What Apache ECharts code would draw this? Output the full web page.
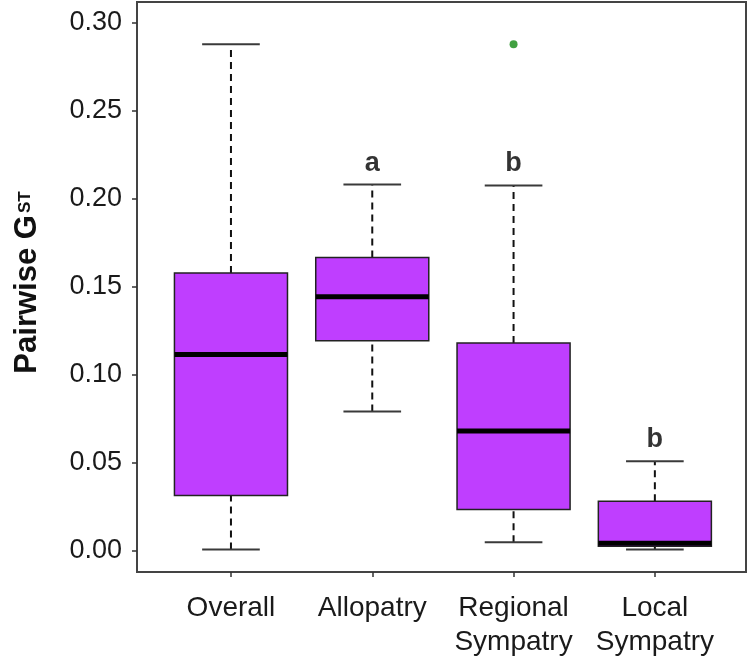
<!DOCTYPE html>
<html>
<head>
<meta charset="utf-8">
<script src="https://cdn.jsdelivr.net/npm/echarts@6/dist/echarts.min.js"></script>
<style>html,body{margin:0;padding:0;background:#fff}#chart{width:751px;height:660px}</style>
</head>
<body>
<div id="chart"></div>
<script>
const categories = ['Overall', 'Allopatry', 'Regional\nSympatry', 'Local\nSympatry'];
const whiskerLow  = [0.0006, 0.0790, 0.0047, 0.0006];
const q1          = [0.0313, 0.1193, 0.0233, 0.0025];
const median      = [0.1114, 0.1443, 0.0680, 0.0042];
const q3          = [0.1578, 0.1665, 0.1180, 0.0280];
const whiskerHigh = [0.2878, 0.2080, 0.2075, 0.0507];
const outliers    = [[2, 0.2878]];
const letters     = ['', 'a', 'b', 'b'];
const yTicks      = [0, 0.05, 0.10, 0.15, 0.20, 0.25, 0.30];
const xTicks      = [0, 1, 2, 3];

const FONT = 'Liberation Sans, Arial, sans-serif';
const boxData = categories.map((c, i) => [i, whiskerLow[i], q1[i], median[i], q3[i], whiskerHigh[i]]);
const letterData = [];
letters.forEach((l, i) => { if (l) letterData.push({ value: [i, whiskerHigh[i]], letter: l }); });

function renderBox(params, api) {
  const i = api.value(0);
  const pLo = api.coord([i, api.value(1)]);
  const pQ1 = api.coord([i, api.value(2)]);
  const pMed = api.coord([i, api.value(3)]);
  const pQ3 = api.coord([i, api.value(4)]);
  const pHi = api.coord([i, api.value(5)]);
  const unit = api.size([1, 0])[0];
  const bw = unit * 0.80;
  const cw = bw * 0.51;
  const x = pLo[0];
  const dash = { stroke: '#111', lineWidth: 2, lineDash: [7, 5] };
  const cap = { stroke: '#3a3a3a', lineWidth: 2 };
  return {
    type: 'group',
    children: [
      { type: 'line', shape: { x1: x, y1: pQ3[1], x2: x, y2: pHi[1] }, style: dash },
      { type: 'line', shape: { x1: x, y1: pLo[1], x2: x, y2: pQ1[1] }, style: dash },
      { type: 'line', shape: { x1: x - cw / 2, y1: pHi[1], x2: x + cw / 2, y2: pHi[1] }, style: cap },
      { type: 'line', shape: { x1: x - cw / 2, y1: pLo[1], x2: x + cw / 2, y2: pLo[1] }, style: cap },
      { type: 'rect', shape: { x: x - bw / 2, y: pQ3[1], width: bw, height: pQ1[1] - pQ3[1] },
        style: { fill: '#BF3EFF', stroke: '#222', lineWidth: 1.5 } },
      { type: 'line', shape: { x1: x - bw / 2, y1: pMed[1], x2: x + bw / 2, y2: pMed[1] },
        style: { stroke: '#000', lineWidth: 5 } }
    ]
  };
}

const chart = echarts.init(document.getElementById('chart'), null, { renderer: 'canvas' });
chart.setOption({
  animation: false,
  backgroundColor: '#fff',
  grid: { left: 137, right: 5, top: 2, bottom: 88, show: true, borderColor: '#444', borderWidth: 2, backgroundColor: 'transparent' },
  xAxis: {
    type: 'value',
    min: -0.665,
    max: 3.645,
    axisLine: { show: false, onZero: false },
    axisTick: { show: true, length: 5, customValues: xTicks, lineStyle: { color: '#333', width: 1.5 } },
    axisLabel: { margin: 19, fontSize: 28, fontFamily: FONT, color: '#1a1a1a', lineHeight: 34,
      customValues: xTicks, formatter: v => categories[Math.round(v)] },
    splitLine: { show: false }
  },
  yAxis: {
    type: 'value',
    min: -0.0122,
    max: 0.3118,
    name: '{a|Pairwise G}{s|ST}',
    nameLocation: 'middle',
    nameRotate: 90,
    nameGap: 94,
    nameTextStyle: {
      rich: {
        a: { fontSize: 31, fontWeight: 'bold', fontFamily: FONT, color: '#111', padding: [0, 0, 0, 9] },
        s: { fontSize: 17, fontWeight: 'bold', fontFamily: FONT, color: '#111', padding: [0, 0, 5, 2] }
      }
    },
    axisLine: { show: true, onZero: false, lineStyle: { color: '#444', width: 2 } },
    axisTick: { show: true, length: 5, customValues: yTicks, lineStyle: { color: '#333', width: 1.5 } },
    axisLabel: { margin: 15, fontSize: 27, fontFamily: FONT, color: '#1a1a1a', customValues: yTicks,
      formatter: v => v.toFixed(2) },
    splitLine: { show: false }
  },
  series: [
    {
      type: 'custom',
      renderItem: renderBox,
      encode: { x: 0, y: [1, 2, 3, 4, 5] },
      data: boxData,
      z: 2
    },
    {
      type: 'scatter',
      data: outliers,
      symbol: 'circle',
      symbolSize: 8,
      itemStyle: { color: '#118811' },
      z: 3
    },
    {
      type: 'scatter',
      data: letterData,
      symbolSize: 0,
      label: {
        show: true, position: 'top', distance: 8,
        formatter: p => p.data.letter,
        fontSize: 27, fontWeight: 'bold', fontFamily: FONT, color: '#000'
      },
      z: 4
    }
  ]
});
</script>
</body>
</html>
